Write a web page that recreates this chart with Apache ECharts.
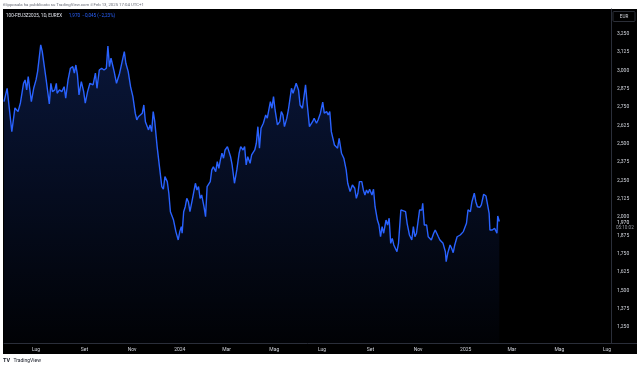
<!DOCTYPE html>
<html><head><meta charset="utf-8">
<script src="https://cdn.jsdelivr.net/npm/echarts@6/dist/echarts.min.js"></script>
<style>html,body{margin:0;padding:0;background:#fff;}#c{width:640px;height:368px;}</style>
</head><body><div id="c"></div>
<script>
const dates = [
'2023-05-21','2023-05-25','2023-05-31','2023-06-04','2023-06-08','2023-06-11','2023-06-15','2023-06-17','2023-06-19','2023-06-21','2023-06-25','2023-06-28',
'2023-07-01','2023-07-03','2023-07-05','2023-07-07','2023-07-09','2023-07-10','2023-07-14','2023-07-16','2023-07-18','2023-07-20','2023-07-22','2023-07-25','2023-07-27','2023-07-28','2023-07-31',
'2023-08-03','2023-08-06','2023-08-08','2023-08-11','2023-08-14','2023-08-17','2023-08-19','2023-08-21','2023-08-23','2023-08-25','2023-08-28','2023-08-31',
'2023-09-02','2023-09-05','2023-09-08','2023-09-12','2023-09-15','2023-09-17','2023-09-20','2023-09-23','2023-09-26','2023-09-29',
'2023-10-01','2023-10-03','2023-10-05','2023-10-07','2023-10-09','2023-10-12','2023-10-13','2023-10-16','2023-10-18','2023-10-22','2023-10-24','2023-10-27','2023-10-30',
'2023-11-02','2023-11-05','2023-11-07','2023-11-09','2023-11-11','2023-11-14','2023-11-16','2023-11-18','2023-11-20','2023-11-22','2023-11-24','2023-11-26','2023-11-28','2023-11-30',
'2023-12-03','2023-12-06','2023-12-09','2023-12-11','2023-12-13','2023-12-16','2023-12-18','2023-12-20','2023-12-22','2023-12-24','2023-12-27','2023-12-30',
'2024-01-01','2024-01-03','2024-01-04','2024-01-06','2024-01-08','2024-01-10','2024-01-12','2024-01-14','2024-01-17','2024-01-19','2024-01-21','2024-01-23','2024-01-25','2024-01-27','2024-01-29',
'2024-02-01','2024-02-03','2024-02-05','2024-02-07','2024-02-09','2024-02-11','2024-02-13','2024-02-16','2024-02-18','2024-02-20','2024-02-22','2024-02-24','2024-02-26','2024-02-28',
'2024-03-02','2024-03-04','2024-03-06','2024-03-08','2024-03-11','2024-03-14','2024-03-17','2024-03-19','2024-03-22','2024-03-24','2024-03-26','2024-03-28','2024-03-31',
'2024-04-02','2024-04-04','2024-04-06','2024-04-08','2024-04-10','2024-04-12','2024-04-14','2024-04-17','2024-04-20','2024-04-22','2024-04-24','2024-04-26','2024-04-28','2024-04-30',
'2024-05-02','2024-05-05','2024-05-08','2024-05-10','2024-05-12','2024-05-14','2024-05-17','2024-05-19','2024-05-21','2024-05-23','2024-05-25','2024-05-27','2024-05-29',
'2024-06-01','2024-06-03','2024-06-06','2024-06-10','2024-06-12','2024-06-15','2024-06-19','2024-06-21','2024-06-24','2024-06-26','2024-06-29',
'2024-07-02','2024-07-04','2024-07-07','2024-07-09','2024-07-11','2024-07-13','2024-07-15','2024-07-17','2024-07-21','2024-07-23','2024-07-26','2024-07-29',
'2024-08-01','2024-08-03','2024-08-06','2024-08-09','2024-08-12','2024-08-14','2024-08-16','2024-08-18','2024-08-21','2024-08-23','2024-08-25','2024-08-27','2024-08-29','2024-08-31',
'2024-09-03','2024-09-05','2024-09-07','2024-09-10','2024-09-12','2024-09-14','2024-09-16','2024-09-18','2024-09-21','2024-09-23','2024-09-25','2024-09-27','2024-09-29',
'2024-10-01','2024-10-05','2024-10-07','2024-10-10','2024-10-12','2024-10-16','2024-10-18','2024-10-21','2024-10-24','2024-10-26','2024-10-28','2024-10-30',
'2024-11-01','2024-11-03','2024-11-06','2024-11-07','2024-11-09','2024-11-12','2024-11-14','2024-11-16','2024-11-18','2024-11-21','2024-11-23','2024-11-25','2024-11-27','2024-11-29',
'2024-12-01','2024-12-03','2024-12-06','2024-12-07','2024-12-09','2024-12-12','2024-12-14','2024-12-16','2024-12-18','2024-12-21','2024-12-23','2024-12-25','2024-12-27','2024-12-29','2024-12-31',
'2025-01-02','2025-01-04','2025-01-07','2025-01-09','2025-01-12','2025-01-14','2025-01-16','2025-01-19','2025-01-21','2025-01-24','2025-01-27','2025-01-29','2025-01-31',
'2025-02-01','2025-02-04','2025-02-07','2025-02-10','2025-02-11','2025-02-13'
];
const values = [
2.788,2.879,2.583,2.745,2.720,2.779,2.913,2.936,2.868,2.959,2.788,2.879,
2.936,2.993,2.982,3.175,3.129,3.141,2.936,2.924,2.772,2.913,2.856,2.868,2.913,2.845,2.868,
2.856,2.890,2.811,2.936,3.016,3.027,2.982,3.038,2.970,2.834,2.924,2.856,
2.777,2.856,2.913,2.902,2.982,2.879,3.004,3.016,3.004,3.016,
3.168,3.027,3.084,3.084,2.993,2.913,2.924,2.982,2.970,3.129,3.050,2.993,2.890,
2.822,2.709,2.663,2.685,2.675,2.709,2.765,2.651,2.663,2.595,2.629,2.583,2.720,2.651,
2.481,2.344,2.208,2.190,2.276,2.242,2.163,2.037,2.049,1.980,1.901,1.844,
1.901,1.935,1.890,2.037,2.071,2.128,2.105,2.037,2.117,2.174,2.231,2.185,2.208,2.128,2.151,
2.071,2.003,2.208,2.197,2.242,2.322,2.344,2.310,2.378,2.333,2.390,2.436,2.402,2.458,
2.481,2.447,2.412,2.356,2.231,2.322,2.436,2.481,2.458,2.481,2.356,2.412,2.367,
2.424,2.412,2.458,2.504,2.617,2.470,2.606,2.640,2.697,2.675,2.731,2.788,2.743,2.822,
2.731,2.629,2.651,2.720,2.697,2.617,2.675,2.731,2.743,2.879,2.845,2.879,2.913,
2.868,2.765,2.743,2.902,2.777,2.617,2.651,2.675,2.640,2.663,2.709,
2.784,2.709,2.720,2.697,2.720,2.583,2.583,2.492,2.470,2.538,2.436,2.402,
2.322,2.231,2.174,2.219,2.197,2.128,2.163,2.242,2.242,2.185,2.151,2.185,2.163,2.190,
2.151,2.190,2.071,1.980,1.946,1.866,1.935,1.890,1.980,1.946,1.992,1.821,1.855,
1.810,1.764,1.821,2.049,2.049,2.037,1.958,1.878,1.844,1.935,1.866,1.890,
1.878,2.049,2.049,2.094,1.946,1.946,1.866,1.878,1.844,1.890,1.912,1.924,1.866,1.844,
1.855,1.821,1.764,1.696,1.753,1.810,1.787,1.757,1.810,1.866,1.855,1.878,1.866,1.901,1.890,
1.958,2.049,2.037,2.105,2.163,2.105,2.071,2.067,2.083,2.156,2.144,2.144,2.026,
1.912,1.912,1.924,1.890,2.008,1.970
];
const xTickDates = ['2023-07-01','2023-09-01','2023-11-01','2024-01-01','2024-03-01','2024-05-01','2024-07-01','2024-09-01','2024-11-01','2025-01-01','2025-03-01','2025-05-01','2025-07-01'];
const xTickLabels = ['Lug','Set','Nov','2024','Mar','Mag','Lug','Set','Nov','2025','Mar','Mag','Lug'];
const yTicks = [1.25,1.375,1.5,1.625,1.75,1.875,2.0,2.125,2.25,2.375,2.5,2.625,2.75,2.875,3.0,3.125,3.25];
const yTickLabels = ['1,250','1,375','1,500','1,625','1,750','1,875','2,000','2,125','2,250','2,375','2,500','2,625','2,750','2,875','3,000','3,125','3,250'];
const xRange = ['2023-05-21','2025-07-06'];
const yRange = [1.141, 3.42];
const lastPrice = 1.970, lastPriceLabel = '1,970', countdown = '05:10:02';
const headerName = '100-FEU3Z2025, 1D, EUREX';
const headerQuote = '1,970  \u22120,045 (\u22122,23%)';
const topNote = 'filipposala ha pubblicato su TradingView.com il Feb 13, 2025 17:04 UTC+1';

const DAY = 86400000;
function dayNum(s){const p=s.split('-');return Math.round(Date.UTC(+p[0],+p[1]-1,+p[2])/DAY);}
const tickDays = xTickDates.map(dayNum);
const FONT = 'Roboto, "Noto Sans", sans-serif';
const chart = echarts.init(document.getElementById('c'), null, {renderer:'canvas'});
function nearestLabel(v, ticks, labels, tol){let b=-1,bd=1e12;ticks.forEach((t,i)=>{const d=Math.abs(t-v);if(d<bd){bd=d;b=i;}});return bd<tol?labels[b]:'';}
const option = {
  backgroundColor:'#ffffff',
  animation:false,
  grid:{left:4, right:29, top:9, bottom:25, containLabel:false},
  xAxis:{
    type:'value', min:dayNum(xRange[0]), max:dayNum(xRange[1]),
    axisLine:{show:true, lineStyle:{color:'#2a2e39', width:1}},
    axisTick:{show:false}, splitLine:{show:false},
    axisLabel:{customValues:tickDays, hideOverlap:false,
      formatter:function(v){return nearestLabel(v,tickDays,xTickLabels,0.5);},
      color:'#d1d4dc', fontSize:5, fontFamily:FONT, margin:4}
  },
  yAxis:{
    type:'value', position:'right', min:yRange[0], max:yRange[1],
    axisLine:{show:true, lineStyle:{color:'#2a2e39', width:1}},
    axisTick:{show:false}, splitLine:{show:false},
    axisLabel:{customValues:yTicks, hideOverlap:false,
      formatter:function(v){return nearestLabel(v,yTicks,yTickLabels,1e-6);},
      color:'#d1d4dc', fontSize:5, fontFamily:FONT, margin:6, align:'left'}
  },
  graphic:[
    {type:'rect', z:-10, silent:true, shape:{x:3,y:9,width:634,height:345}, style:{fill:'#000000'}},
    {type:'line', z:5, shape:{x1:611,y1:343.5,x2:637,y2:343.5}, style:{stroke:'#2a2e39', lineWidth:1}},
    {type:'text', z:5, x:3, y:5, style:{text:topNote, fill:'#6a6d78', fontSize:4.3, fontFamily:FONT, verticalAlign:'middle'}},
    {type:'text', z:5, x:6, y:16, style:{
      text:'{a|'+headerName+'}  {b|'+headerQuote+'}', verticalAlign:'middle',
      rich:{a:{fill:'#e0e3eb', fontSize:4.6, fontFamily:FONT}, b:{fill:'#2962ff', fontSize:4.6, fontFamily:FONT}}}},
    {type:'rect', z:5, shape:{x:613,y:11.5,width:22,height:10,r:1}, style:{fill:'#000', stroke:'#363a45', lineWidth:0.8}},
    {type:'text', z:6, x:624, y:16.5, style:{text:'EUR', fill:'#d1d4dc', fontSize:4.6, fontFamily:FONT, align:'center', verticalAlign:'middle'}},
    {type:'text', z:5, x:3, y:361, style:{
      text:'{t|TV} {n|TradingView}', verticalAlign:'middle',
      rich:{t:{fill:'#131722', fontSize:5.5, fontWeight:'bold', fontFamily:FONT}, n:{fill:'#131722', fontSize:5, fontFamily:FONT}}}}
  ],
  series:[{
    type:'line', showSymbol:false, z:3,
    data:dates.map((d,i)=>[dayNum(d), values[i]]),
    lineStyle:{color:'#2962ff', width:1.4},
    areaStyle:{origin:'start', color:new echarts.graphic.LinearGradient(0,0,0,1,[
      {offset:0,color:'rgba(41,98,255,0.32)'},{offset:1,color:'rgba(41,98,255,0.03)'}])}
  }]
};
chart.setOption(option);
const px = chart.convertToPixel({gridIndex:0},[dayNum(xRange[1]), lastPrice]);
const g = option.graphic.slice();
g.push({type:'text', z:6, x:px[0]+6, y:px[1]+1, style:{text:lastPriceLabel, fill:'#e0e3eb', fontSize:5, fontFamily:FONT, verticalAlign:'middle'}});
g.push({type:'text', z:6, x:px[0]+5, y:px[1]+6.5, style:{text:countdown, fill:'#9598a1', fontSize:4.6, fontFamily:FONT, verticalAlign:'middle'}});
chart.setOption({graphic:g});
</script></body></html>
